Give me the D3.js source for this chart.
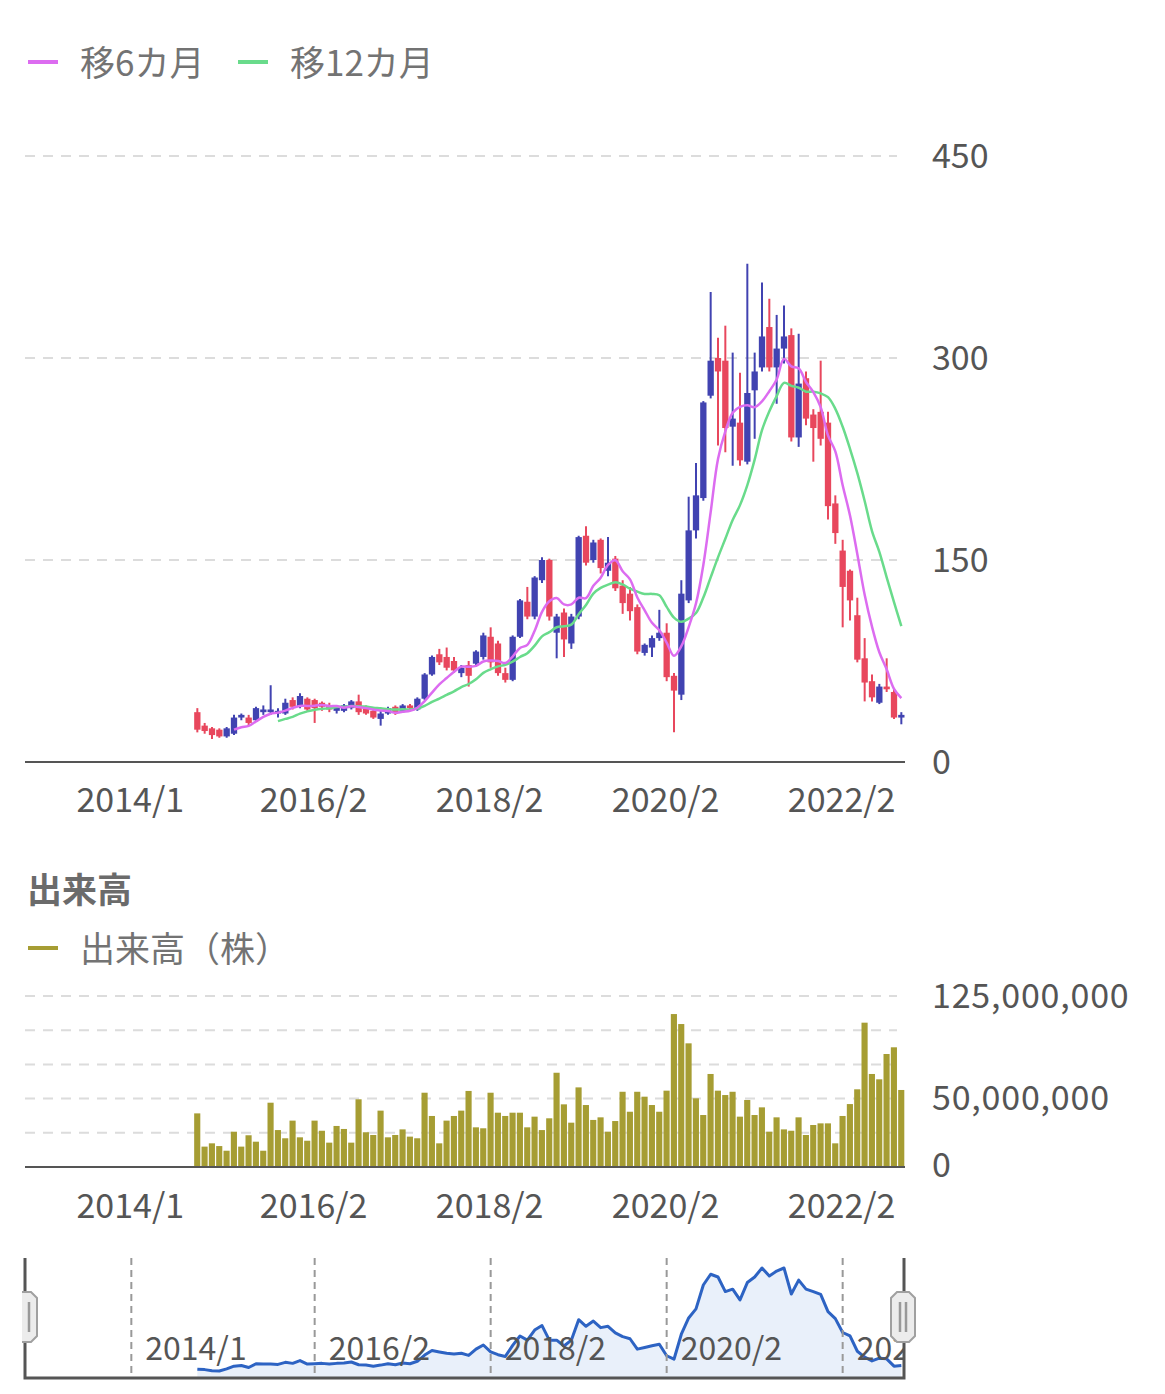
<!DOCTYPE html>
<html>
<head>
<meta charset="utf-8">
<script src="https://cdn.jsdelivr.net/npm/d3@7/dist/d3.min.js"></script>
<style>
  html, body { margin: 0; padding: 0; background: #fff; }
  svg { display: block; font-family: 'Noto Sans CJK JP', 'Noto Sans', sans-serif; }
</style>
</head>
<body>
<svg id="chart" width="1165" height="1394"></svg>
<script>
// monthly candles, 2014/10 .. 2022/10
const firstYear = 2012, firstMonth = 11, catCount = 120;   // category axis 2012/11 .. 2022/10
const dataStart = 23;                                      // 2014/10
const tickLabels = ['2014/1', '2016/2', '2018/2', '2020/2', '2022/2'];

const open = [37,27,25,24,19,21,33,33,31,37, 37,36,36,46,41,47,46,44,42,38,
  38,40,45,40,38,32,36,41,38,42, 39,47,65,80,78,75,66,72,73,78,
  93,88,66,61,93,119,108,135,150,96, 111,88,108,168,150,165,142,151,131,125,
  115,81,85,92,96,64,50,120,172,196, 272,300,298,249,252,223,276,293,323,293,
  307,317,241,285,258,260,252,192,157,142, 109,77,60,44,56,52,33];
const high = [40,29,26,25,26,35,36,35,41,42, 57,40,47,48,51,48,47,45,44,42,
  43,46,50,42,39,38,41,42,43,43, 48,66,79,84,85,78,72,75,83,96,
  100,90,70,94,121,130,138,152,151,110, 114,110,168,175,165,166,167,153,135,130,
  117,88,94,113,103,66,135,197,222,268, 349,315,324,304,289,370,304,356,344,332,
  339,322,318,290,262,298,260,198,165,143, 122,92,65,58,77,55,37];
const low = [22,21,17,18,18,20,31,27,30,35, 35,33,35,39,40,38,29,38,37,36,
  37,39,35,35,32,27,35,35,37,38, 38,46,64,72,68,66,63,56,71,76,
  70,64,59,60,92,106,106,133,105,77, 78,84,106,146,148,140,138,127,110,105,
  80,79,78,90,60,22,46,118,166,194, 270,235,230,220,220,221,240,290,290,266,
  296,238,234,250,223,235,180,162,100,105, 74,45,45,43,52,32,28];
const close = [24,23,20,19,25,33,35,29,40,39, 39,38,44,41,49,39,40,41,39,41,
  42,45,37,36,33,36,40,37,42,40, 47,65,78,74,70,68,70,64,82,94,
  74,66,61,93,120,108,137,150,108,108, 91,108,167,148,163,144,148,129,118,112,
  82,87,92,96,63,53,125,172,198,267, 298,290,248,255,224,274,290,316,293,307,
  316,241,281,255,248,240,190,170,130,120, 76,59,48,56,54,33,35];
// volume in millions of shares
const volumeM = [39.2,14.9,17.3,15.3,11.9,25.8,14.9,23.2,18.5,11.9,
  47,27,21,33.9,21.7,19.2,33.9,26.5,17.8,30,
  27.8,17.8,49.5,25.4,23.4,41.2,21.7,23.4,27.5,22.2,
  21,54.3,37.3,17.3,33.9,37.3,41.2,55.6,29,28.3,
  54.3,39.7,37.3,39.7,39.7,29,36.8,27,35.6,68.9,
  45.8,32.4,58.2,45.3,34.4,36.3,25.8,33.6,55,40.4,
  55,51.4,45.3,40.4,55.8,111.8,104.5,90.4,50.2,38,
  68,55.8,52.6,55,36.8,49,38,43.6,25.8,36.3,
  27.5,26.5,36.3,23.4,30.7,31.9,31.9,17.3,37.3,46,
  56.8,105.5,68,64.1,82.6,87.5,56.3];
const volume = volumeM.map(v => v * 1e6);

const priceTicks = [0, 150, 300, 450];
const volGrid = [25e6, 50e6, 75e6, 100e6, 125e6];
const volLabels = [0, 50e6, 125e6];

const upColor = '#4143b1', downColor = '#e8475d';
const ma6Color = '#dc6cf0', ma12Color = '#69db8b', volColor = '#a69d33';
const textColor = '#555', legendText = '#737373';

// category labels
const cats = [];
for (let i = 0; i < catCount; i++) {
  const m = firstMonth - 1 + i;
  cats.push((firstYear + Math.floor(m / 12)) + '/' + (m % 12 + 1));
}

function sma(arr, n) {
  return arr.map((_, i) => i < n - 1 ? null : d3.mean(arr.slice(i - n + 1, i + 1)));
}
const ma6 = sma(close, 6), ma12 = sma(close, 12);

const svg = d3.select('#chart');
const left = 25, right = 905;
const x = d3.scaleBand().domain(cats).range([left, right]);
const bw = x.bandwidth();
const cx = k => x(cats[dataStart + k]) + bw / 2;

// ---------- legend ----------
const lg = [{ name: '移6カ月', c: ma6Color, x: 28 }, { name: '移12カ月', c: ma12Color, x: 238 }];
lg.forEach(d => {
  svg.append('line').attr('x1', d.x).attr('x2', d.x + 30).attr('y1', 62).attr('y2', 62)
    .attr('stroke', d.c).attr('stroke-width', 4);
  svg.append('text').attr('x', d.x + 52).attr('y', 60).attr('dominant-baseline', 'central')
    .attr('font-size', 35).attr('fill', legendText).text(d.name);
});

// ---------- price panel ----------
const y = d3.scaleLinear().domain([0, 450]).range([762, 156]);

svg.append('g').selectAll('line').data(priceTicks.filter(d => d > 0)).join('line')
  .attr('x1', left).attr('x2', 897).attr('y1', d => y(d)).attr('y2', d => y(d))
  .attr('stroke', '#dcdcdc').attr('stroke-width', 2).attr('stroke-dasharray', '10,8');

svg.append('g').selectAll('text').data(priceTicks).join('text')
  .attr('x', 932).attr('y', d => y(d) - 3).attr('dominant-baseline', 'central')
  .attr('font-size', 34).attr('fill', textColor).text(d => d);

const idx = d3.range(close.length);
const candles = svg.append('g');
candles.selectAll('line').data(idx).join('line')
  .attr('x1', cx).attr('x2', cx)
  .attr('y1', k => y(high[k])).attr('y2', k => y(low[k]))
  .attr('stroke', k => close[k] >= open[k] ? upColor : downColor).attr('stroke-width', 2);
candles.selectAll('rect').data(idx).join('rect')
  .attr('x', k => cx(k) - bw * 0.43).attr('width', bw * 0.86)
  .attr('y', k => y(Math.max(open[k], close[k])))
  .attr('height', k => Math.max(1.5, Math.abs(y(open[k]) - y(close[k]))))
  .attr('fill', k => close[k] >= open[k] ? upColor : downColor);

function maLine(vals, color) {
  const line = d3.line().defined(k => vals[k] != null)
    .x(k => cx(k)).y(k => y(vals[k])).curve(d3.curveCatmullRom.alpha(0.5));
  svg.append('path').datum(idx).attr('d', line)
    .attr('fill', 'none').attr('stroke', color).attr('stroke-width', 2.5);
}
maLine(ma12, ma12Color);
maLine(ma6, ma6Color);

svg.append('line').attr('x1', left).attr('x2', right).attr('y1', 762).attr('y2', 762)
  .attr('stroke', '#555').attr('stroke-width', 2);

function xLabels(yy) {
  svg.append('g').selectAll('text').data(tickLabels).join('text')
    .attr('x', d => x(d) + bw / 2 - 1).attr('y', yy).attr('text-anchor', 'middle')
    .attr('dominant-baseline', 'central').attr('font-size', 34).attr('fill', textColor).text(d => d);
}
xLabels(797);

// ---------- volume panel ----------
svg.append('text').attr('x', 27).attr('y', 887).attr('dominant-baseline', 'central')
  .attr('font-size', 35).attr('font-weight', 'bold').attr('fill', '#6b6b6b').text('出来高');
svg.append('line').attr('x1', 28).attr('x2', 58).attr('y1', 948).attr('y2', 948)
  .attr('stroke', volColor).attr('stroke-width', 4);
svg.append('text').attr('x', 80).attr('y', 946).attr('dominant-baseline', 'central')
  .attr('font-size', 35).attr('fill', legendText).text('出来高（株）');

const yv = d3.scaleLinear().domain([0, 125e6]).range([1167, 996]);
svg.append('g').selectAll('line').data(volGrid).join('line')
  .attr('x1', left).attr('x2', 897).attr('y1', d => yv(d)).attr('y2', d => yv(d))
  .attr('stroke', '#dcdcdc').attr('stroke-width', 2).attr('stroke-dasharray', '10,8');
svg.append('g').selectAll('text').data(volLabels).join('text')
  .attr('x', 932).attr('y', d => d === 0 ? yv(d) - 5 : yv(d) - 3).attr('dominant-baseline', 'central')
  .attr('font-size', 34).attr('letter-spacing', 0.8).attr('fill', textColor).text(d => d3.format(',')(d));

svg.append('g').selectAll('rect').data(idx).join('rect')
  .attr('x', k => x(cats[dataStart + k]) + 0.5).attr('width', bw - 1.2)
  .attr('y', k => yv(volume[k])).attr('height', k => yv(0) - yv(volume[k]))
  .attr('fill', volColor);

svg.append('line').attr('x1', left).attr('x2', right).attr('y1', 1167).attr('y2', 1167)
  .attr('stroke', '#555').attr('stroke-width', 2);
xLabels(1203);

// ---------- data zoom slider ----------
const sTop = 1258, sBot = 1378, sRight = 904;
const defs = svg.append('defs');
defs.append('clipPath').attr('id', 'sclip')
  .append('rect').attr('x', left).attr('y', sTop).attr('width', sRight - left).attr('height', sBot - sTop);
defs.append('clipPath').attr('id', 'hclip')
  .append('rect').attr('x', 22).attr('y', sTop).attr('width', 1143).attr('height', sBot - sTop);
const sg = svg.append('g').attr('clip-path', 'url(#sclip)');
const ys = d3.scaleLinear().domain(d3.extent(close)).range([1371, 1268]);

sg.append('path').datum(idx)
  .attr('d', d3.area().x(cx).y0(sBot).y1(k => ys(close[k])))
  .attr('fill', '#e9f0fa');
sg.append('path').datum(idx)
  .attr('d', d3.line().x(cx).y(k => ys(close[k])))
  .attr('fill', 'none').attr('stroke', '#2d63c3').attr('stroke-width', 3).attr('stroke-linejoin', 'round');

tickLabels.forEach(t => {
  const tx = x(t) + bw / 2;
  sg.append('line').attr('x1', tx).attr('x2', tx).attr('y1', sTop).attr('y2', sBot)
    .attr('stroke', '#999').attr('stroke-width', 2).attr('stroke-dasharray', '7,5');
  sg.append('text').attr('x', tx + 14).attr('y', 1360).attr('font-size', 32)
    .attr('fill', textColor).text(t);
});

svg.append('path').attr('d', `M${left},${sTop}V${sBot}H${sRight}V${sTop}`)
  .attr('fill', 'none').attr('stroke', '#555').attr('stroke-width', 3);

function handle(hx, bars) {
  const w = 24, h = 50, t = 1292, c = 6;
  const g = svg.append('g').attr('clip-path', 'url(#hclip)');
  g.append('path')
    .attr('d', `M${hx - w / 2 + c},${t}H${hx + w / 2 - c}L${hx + w / 2},${t + c}V${t + h - c}L${hx + w / 2 - c},${t + h}H${hx - w / 2 + c}L${hx - w / 2},${t + h - c}V${t + c}Z`)
    .attr('fill', '#ececec').attr('stroke', '#a0a0a0').attr('stroke-width', 2);
  bars.forEach(bx => g.append('line').attr('x1', hx + bx).attr('x2', hx + bx)
    .attr('y1', t + 10).attr('y2', t + h - 10).attr('stroke', '#999').attr('stroke-width', 2.5));
}
handle(25, [4]);
handle(903, [-3, 3]);
</script>
</body>
</html>
